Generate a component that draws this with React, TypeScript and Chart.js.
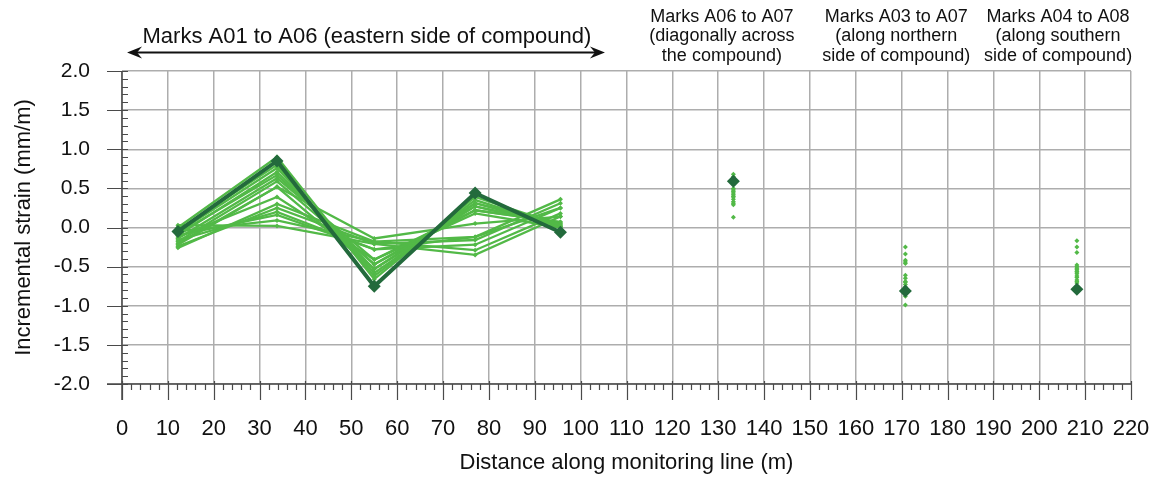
import React, { useEffect, useRef } from "react";
import { Chart, registerables } from "chart.js";

Chart.register(...registerables);

// Monitoring mark positions along the line (m)
const distances = [12.2, 33.8, 55.0, 77.0, 95.6, 133.3, 170.8, 208.2];
// Index of the last mark on the eastern side (lines are only joined up to here)
const lastEasternIndex = 4;

// Latest survey (highlighted)
const latestStrain = [-0.05, 0.85, -0.75, 0.44, -0.06, 0.59, -0.81, -0.79];

// Earlier surveys (mm/m)
const earlierStrain: number[][] = [
  [0.0, 0.9, -0.66, 0.39, 0.03, 0.68, -0.25, -0.17],
  [-0.03, 0.8, -0.62, 0.35, 0.01, 0.65, -0.34, -0.25],
  [-0.06, 0.76, -0.58, 0.31, 0.05, 0.48, -0.42, -0.32],
  [-0.1, 0.71, -0.53, 0.27, 0.02, 0.44, -0.46, -0.48],
  [-0.08, 0.67, -0.47, 0.22, 0.07, 0.39, -0.61, -0.52],
  [-0.14, 0.63, -0.41, 0.18, 0.0, 0.33, -0.69, -0.56],
  [-0.18, 0.59, -0.47, 0.27, 0.04, 0.29, -0.73, -0.59],
  [-0.2, 0.52, -0.53, 0.31, 0.01, 0.13, -0.88, -0.67],
  [-0.12, 0.39, -0.41, 0.22, 0.07, 0.5, -0.99, -0.71],
  [-0.22, 0.52, -0.14, 0.05, 0.14, 0.46, -0.8, -0.75],
  [-0.26, 0.3, -0.18, -0.12, 0.36, 0.36, -0.76, -0.54],
  [-0.24, 0.25, -0.21, -0.16, 0.31, 0.31, -0.65, -0.62],
  [-0.16, 0.2, -0.28, -0.22, 0.25, 0.42, -0.7, -0.5],
  [-0.05, 0.09, -0.18, -0.29, 0.18, 0.55, -0.84, -0.69],
  [0.03, 0.02, -0.21, -0.35, 0.14, 0.62, -0.44, -0.57],
  [-0.1, 0.16, -0.28, -0.12, 0.25, 0.4, -0.78, -0.64],
];

// Axis ranges and tick steps
const xMin = 0;
const xMax = 220;
const xMajorStep = 10;
const xMinorStep = 2;
const yMin = -2;
const yMax = 2;
const yMajorStep = 0.5;
const yMinorStep = 0.1;

// Group captions above the plot
const easternCaption = "Marks A01 to A06 (eastern side of compound)";
const easternCaptionCentre = 53.4;
const easternArrowFrom = 1.1;
const easternArrowTo = 105.3;
const groupCaptionCentres = [130.8, 168.8, 204.1];
const groupCaptions = [
  ["Marks A06 to A07", "(diagonally across", "the compound)"],
  ["Marks A03 to A07", "(along northern", "side of compound)"],
  ["Marks A04 to A08", "(along southern", "side of compound)"],
];
const xTitle = "Distance along monitoring line (m)";
const yTitle = "Incremental strain (mm/m)";

const FONT = "'Liberation Sans', Arial, sans-serif";
const LIGHT = "#52b947";
const DARK = "#236a3c";
const GRID = "#adadad";
const AXIS = "#4a4a4a";

const toPoints = (vals: number[]) => vals.map((y, i) => ({ x: distances[i], y }));

const hideDetached = (ctx: any) =>
  ctx.p1DataIndex > lastEasternIndex ? "rgba(0,0,0,0)" : undefined;

const decorations = {
  id: "decorations",
  afterDraw(chart: any) {
    const { ctx, chartArea, scales } = chart;
    const xs = scales.x;
    const ys = scales.y;
    ctx.save();

    // axis lines
    ctx.strokeStyle = AXIS;
    ctx.lineWidth = 1.5;
    ctx.beginPath();
    ctx.moveTo(chartArea.left, chartArea.top);
    ctx.lineTo(chartArea.left, chartArea.bottom + 16);
    ctx.moveTo(chartArea.left - 15, chartArea.bottom);
    ctx.lineTo(chartArea.right, chartArea.bottom);
    ctx.stroke();

    // y ticks
    ctx.lineWidth = 1.2;
    ctx.beginPath();
    const ny = Math.round((yMax - yMin) / yMinorStep);
    for (let i = 0; i <= ny; i++) {
      const v = yMin + i * yMinorStep;
      const py = Math.round(ys.getPixelForValue(v)) + 0.5;
      const major = i % Math.round(yMajorStep / yMinorStep) === 0;
      ctx.moveTo(chartArea.left - (major ? 15 : 0), py);
      ctx.lineTo(chartArea.left + 6, py);
    }
    // x ticks
    const nx = Math.round((xMax - xMin) / xMinorStep);
    for (let i = 0; i <= nx; i++) {
      const v = xMin + i * xMinorStep;
      const px = Math.round(xs.getPixelForValue(v)) + 0.5;
      const major = i % Math.round(xMajorStep / xMinorStep) === 0;
      ctx.moveTo(px, chartArea.bottom - (major ? 3 : 0));
      ctx.lineTo(px, chartArea.bottom + (major ? 16 : 6));
    }
    ctx.stroke();

    // axis titles
    ctx.fillStyle = "#111";
    ctx.font = `22px ${FONT}`;
    ctx.textAlign = "center";
    ctx.textBaseline = "middle";
    ctx.fillText(xTitle, (chartArea.left + chartArea.right) / 2, 463);
    ctx.save();
    ctx.translate(24, (chartArea.top + chartArea.bottom) / 2);
    ctx.rotate(-Math.PI / 2);
    ctx.fillText(yTitle, 0, 0);
    ctx.restore();

    // eastern side caption with double arrow
    ctx.font = `22px ${FONT}`;
    ctx.fillText(easternCaption, xs.getPixelForValue(easternCaptionCentre), 37);
    const a0 = xs.getPixelForValue(easternArrowFrom);
    const a1 = xs.getPixelForValue(easternArrowTo);
    const ay = 52.5;
    ctx.strokeStyle = "#111";
    ctx.fillStyle = "#111";
    ctx.lineWidth = 2;
    ctx.beginPath();
    ctx.moveTo(a0 + 6, ay);
    ctx.lineTo(a1 - 6, ay);
    ctx.stroke();
    ctx.beginPath();
    ctx.moveTo(a0, ay);
    ctx.lineTo(a0 + 15, ay - 6);
    ctx.lineTo(a0 + 10, ay);
    ctx.lineTo(a0 + 15, ay + 6);
    ctx.closePath();
    ctx.moveTo(a1, ay);
    ctx.lineTo(a1 - 15, ay - 6);
    ctx.lineTo(a1 - 10, ay);
    ctx.lineTo(a1 - 15, ay + 6);
    ctx.closePath();
    ctx.fill();

    // captions for the detached mark pairs
    ctx.fillStyle = "#111";
    ctx.font = `18px ${FONT}`;
    groupCaptions.forEach((lines, gi) => {
      const cx = xs.getPixelForValue(groupCaptionCentres[gi]);
      lines.forEach((t, li) => ctx.fillText(t, cx, 17 + li * 19.5));
    });
    ctx.restore();
  },
};

export default function App() {
  const ref = useRef<HTMLCanvasElement | null>(null);

  useEffect(() => {
    if (!ref.current) return;
    const datasets: any[] = earlierStrain.map((vals) => ({
      data: toPoints(vals),
      showLine: true,
      borderColor: LIGHT,
      backgroundColor: LIGHT,
      borderWidth: 2.3,
      pointStyle: "rectRot",
      pointRadius: 2.5,
      pointBorderWidth: 0,
      segment: { borderColor: hideDetached },
      order: 1,
    }));
    datasets.push({
      data: toPoints(latestStrain),
      showLine: true,
      borderColor: DARK,
      backgroundColor: DARK,
      borderWidth: 4,
      pointStyle: "rectRot",
      pointRadius: 6.5,
      pointBorderWidth: 0,
      segment: { borderColor: hideDetached },
      order: 0,
    });

    const chart = new Chart(ref.current, {
      type: "scatter",
      data: { datasets },
      options: {
        responsive: false,
        animation: false,
        events: [],
        layout: { padding: { top: 71, right: 23, left: 0, bottom: 0 } },
        plugins: { legend: { display: false }, tooltip: { enabled: false } },
        scales: {
          x: {
            type: "linear",
            min: xMin,
            max: xMax,
            afterFit: (s: any) => {
              s.height = 94;
              s.paddingLeft = 0;
              s.paddingRight = 0;
            },
            ticks: {
              stepSize: xMajorStep,
              padding: 32,
              color: "#111",
              font: { family: FONT, size: 22 },
              maxRotation: 0,
              autoSkip: false,
            },
            grid: { color: GRID, lineWidth: 1.5, drawTicks: false },
            border: { display: false },
          },
          y: {
            type: "linear",
            min: yMin,
            max: yMax,
            afterFit: (s: any) => {
              s.width = 122;
              s.paddingTop = 0;
              s.paddingBottom = 0;
            },
            ticks: {
              stepSize: yMajorStep,
              padding: 32,
              color: "#111",
              font: { family: FONT, size: 21 },
              callback: (v: any) => Number(v).toFixed(1),
            },
            grid: { color: GRID, lineWidth: 1.5, drawTicks: false },
            border: { display: false },
          },
        },
      },
      plugins: [decorations],
    });
    return () => chart.destroy();
  }, []);

  return (
    <div style={{ position: "fixed", left: 0, top: 0, width: 1154, height: 478, background: "#fff" }}>
      <canvas ref={ref} width={1154} height={478} style={{ display: "block" }} />
    </div>
  );
}
